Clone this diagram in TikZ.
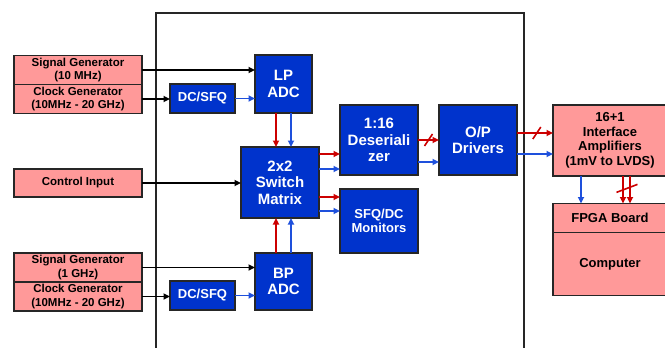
\documentclass[tikz,border=0pt]{standalone}
\usepackage{xcolor}
\usepackage{fontspec}
\setmainfont{Liberation Sans}
\usetikzlibrary{calc}
\usetikzlibrary{positioning, arrows.meta}

\definecolor{boxblue}{RGB}{0,51,204}
\definecolor{boxpink}{RGB}{255,153,153}
\definecolor{sigred}{RGB}{204,0,0}
\definecolor{sigblue}{RGB}{30,80,220}

\begin{document}
\begin{tikzpicture}[
    x=1pt, y=-1pt,
    src/.style={rectangle, draw=black!85, line width=1.2pt, fill=boxpink, inner sep=0pt, outer sep=0pt, minimum width=128pt, align=center, font=\fontsize{11.5}{13.5}\selectfont\bfseries},
    blk/.style={rectangle, draw=black!85, line width=1.2pt, fill=boxblue, text=white, inner sep=0pt, outer sep=0pt, minimum width=78pt, align=center, font=\fontsize{15}{16.5}\selectfont\bfseries},
    smalltext/.style={font=\fontsize{13}{14.5}\selectfont\bfseries},
    ext/.style={rectangle, draw=black!85, line width=1.2pt, fill=boxpink, inner sep=0pt, outer sep=0pt, minimum width=114pt, align=center, font=\fontsize{13}{14.5}\selectfont\bfseries},
    arrow/.style={line width=1.6pt, -{Triangle[length=6.5pt,width=6pt]}},
    redarrow/.style={arrow, sigred},
    bluearrow/.style={arrow, sigblue},
    slash/.style={line width=1.6pt, sigred}
]
    \useasboundingbox (0,0) rectangle (665,348);

    % Chip outline (open at the bottom)
    \draw [line width=1.6pt, black!85] (156,352) -- (156,13) -- (524,13) -- (524,352);

    % Sources on the left
    \node (sig1) [src, minimum height=29pt] at (78,70) {Signal Generator\\(10 MHz)};
    \node (clk1) [src, minimum height=29pt, below=0pt of sig1] {Clock Generator\\(10MHz - 20 GHz)};
    \node (ctrl) [src, minimum height=28pt] at (78,183) {Control Input};
    \node (sig2) [src, minimum height=29pt] at (78,267.5) {Signal Generator\\(1 GHz)};
    \node (clk2) [src, minimum height=29pt, below=0pt of sig2] {Clock Generator\\(10MHz - 20 GHz)};

    % On-chip blocks
    \node (dc1)    [blk, smalltext, minimum width=65pt, minimum height=29pt] at (202.5,98.5) {DC/SFQ};
    \node (dc2)    [blk, smalltext, minimum width=65pt, minimum height=29pt] at (202.5,295.5) {DC/SFQ};
    \node (lpadc)  [blk, minimum width=57pt, minimum height=58pt] at (283.5,84) {LP\\ADC};
    \node (bpadc)  [blk, minimum width=57pt, minimum height=57pt] at (283.5,281.5) {BP\\ADC};
    \node (switch) [blk, minimum height=71pt] at (280,182.5) {2x2\\Switch\\Matrix};
    \node (deser)  [blk, minimum height=70pt] at (379,140) {1:16\\Deseriali\\zer};
    \node (mon)    [blk, smalltext, minimum height=64pt, below=14pt of deser] {SFQ/DC\\Monitors};
    \node (opdrv)  [blk, minimum height=70pt, right=21pt of deser] {O/P\\Drivers};

    % Off-chip electronics
    \node (amp)  [ext, minimum height=71pt] at (610,140.5) {16+1\\Interface\\Amplifiers\\(1mV to LVDS)};
    \node (fpga) [ext, minimum height=29pt] at (610,218) {FPGA Board};
    \node (comp) [ext, minimum height=63pt, below=0pt of fpga] {Computer};

    % Inputs to the chip
    \draw [arrow] (sig1.east) -- (sig1.east -| lpadc.west);
    \draw [arrow] (clk1.east) -- (clk1.east -| dc1.west);
    \draw [arrow] (ctrl.east) -- (ctrl.east -| switch.west);
    \draw [arrow] (sig2.east) -- (sig2.east -| bpadc.west);
    \draw [arrow] (clk2.east) -- (clk2.east -| dc2.west);
    \draw [bluearrow] (dc1.east) -- (dc1.east -| lpadc.west);
    \draw [bluearrow] (dc2.east) -- (dc2.east -| bpadc.west);

    % ADCs into the switch matrix
    \draw [redarrow]  ([xshift=-7.5pt]lpadc.south) -- ([xshift=-7.5pt]lpadc.south |- switch.north);
    \draw [bluearrow] ([xshift=7.5pt]lpadc.south) -- ([xshift=7.5pt]lpadc.south |- switch.north);
    \draw [redarrow]  ([xshift=-7.5pt]bpadc.north) -- ([xshift=-7.5pt]bpadc.north |- switch.south);
    \draw [bluearrow] ([xshift=7.5pt]bpadc.north) -- ([xshift=7.5pt]bpadc.north |- switch.south);

    % Switch matrix outputs
    \draw [redarrow]  ([yshift=28.5pt]switch.east) -- ([yshift=28.5pt]switch.east -| deser.west);
    \draw [bluearrow] ([yshift=13.5pt]switch.east) -- ([yshift=13.5pt]switch.east -| deser.west);
    \draw [redarrow]  ([yshift=-14.5pt]switch.east) -- ([yshift=-14.5pt]switch.east -| mon.west);
    \draw [bluearrow] ([yshift=-28.5pt]switch.east) -- ([yshift=-28.5pt]switch.east -| mon.west);

    % Deserializer -> drivers -> amplifiers (bus marked with a slash)
    \draw [redarrow]  (deser.east) -- (opdrv.west);
    \draw [slash] ($(deser.east)!0.5!(opdrv.west)$) ++(-4,6) -- ++(8,-12);
    \draw [bluearrow] ([yshift=-22pt]deser.east) -- ([yshift=-22pt]deser.east -| opdrv.west);
    \draw [redarrow]  ([yshift=7pt]opdrv.east) -- ([yshift=7pt]opdrv.east -| amp.west);
    \draw [slash] ($([yshift=7pt]opdrv.east)!0.55!([yshift=7pt]opdrv.east -| amp.west)$) ++(-4,6) -- ++(8,-12);
    \draw [bluearrow] ([yshift=-14pt]opdrv.east) -- ([yshift=-14pt]opdrv.east -| amp.west);

    % Amplifiers -> FPGA board
    \draw [bluearrow] ([xshift=-29pt]amp.south) -- ([xshift=-29pt]amp.south |- fpga.north);
    \draw [redarrow]  ([xshift=13pt]amp.south) -- ([xshift=13pt]amp.south |- fpga.north);
    \draw [redarrow]  ([xshift=20pt]amp.south) -- ([xshift=20pt]amp.south |- fpga.north);
    \draw [slash] ($([xshift=16.5pt]amp.south)!0.45!([xshift=16.5pt]amp.south |- fpga.north)$) ++(-10,4) -- ++(21,-8);

\end{tikzpicture}
\end{document}
